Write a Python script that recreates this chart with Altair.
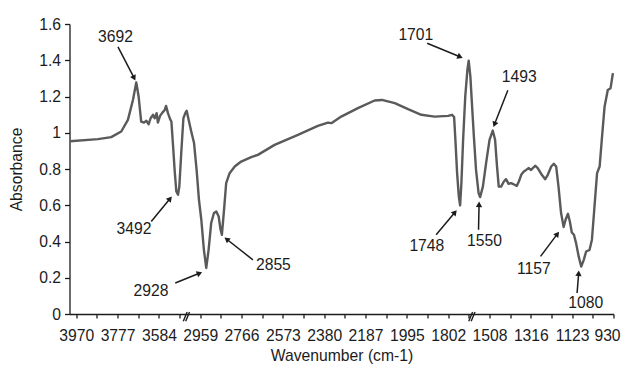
import json
import math
import altair as alt
import pandas as pd

# ---------------- data ----------------
tick_labels = ["3970", "3777", "3584", "2959", "2766", "2573", "2380",
               "2187", "1995", "1802", "1508", "1316", "1123", "930"]

wavenumber = [
    3999, 3869, 3807, 3760, 3729, 3705, 3690, 3679, 3667, 3654, 3643, 3632,
    3623, 3612, 3604, 3595, 3589, 3579, 3568, 3557, 3551, 3542, 3532, 3526,
    3518, 3511, 3503, 3495, 3489, 3480, 3470, 3461, 3455,
    3022, 3013, 3001, 2988, 2976, 2965, 2954, 2942, 2931, 2920, 2908, 2895,
    2884, 2873, 2864, 2858, 2848, 2838, 2822, 2798, 2768, 2721, 2690, 2612,
    2503, 2410, 2363, 2347, 2301, 2223, 2145, 2111, 2051, 1989, 1927, 1865,
    1802, 1784, 1774, 1768, 1760, 1752, 1746, 1740, 1732, 1722, 1712, 1706,
    1698, 1690,
    1581, 1571, 1559, 1552, 1539, 1524, 1508, 1493, 1482, 1473, 1465, 1454,
    1441, 1431, 1419, 1407, 1391, 1381, 1371, 1360, 1348, 1337, 1326, 1314,
    1295, 1283, 1264, 1248, 1236, 1220, 1208, 1197, 1186, 1174, 1162, 1153,
    1142, 1133, 1124, 1114, 1104, 1092, 1080, 1068, 1057, 1041, 1030, 1018,
    1006, 994, 984, 971, 956, 943, 937, 932,
]
absorbance = [
    0.953, 0.965, 0.976, 1.007, 1.071, 1.183, 1.277, 1.200, 1.062, 1.056, 1.066, 1.047,
    1.080, 1.099, 1.080, 1.108, 1.056, 1.093, 1.111, 1.126, 1.148, 1.108, 1.075, 1.062,
    0.924, 0.795, 0.676, 0.658, 0.703, 0.888, 1.080, 1.108, 1.121,
    1.120, 1.071, 1.007, 0.943, 0.795, 0.630, 0.520, 0.354, 0.254, 0.354, 0.502, 0.557,
    0.566, 0.538, 0.465, 0.437, 0.575, 0.722, 0.777, 0.814, 0.841, 0.866, 0.878, 0.933,
    0.988, 1.038, 1.056, 1.053, 1.089, 1.136, 1.178, 1.181, 1.163, 1.130, 1.099, 1.089,
    1.093, 1.099, 1.086, 0.961, 0.777, 0.648, 0.599, 0.722, 0.961, 1.200, 1.347, 1.398,
    1.310, 1.144,
    0.979, 0.795, 0.667, 0.645, 0.703, 0.832, 0.961, 1.012, 0.961, 0.814, 0.703, 0.703,
    0.731, 0.744, 0.718, 0.722, 0.713, 0.707, 0.731, 0.768, 0.786, 0.795, 0.805, 0.795,
    0.818, 0.805, 0.768, 0.744, 0.768, 0.814, 0.829, 0.814, 0.703, 0.557, 0.480, 0.520,
    0.553, 0.510, 0.450, 0.437, 0.391, 0.318, 0.262, 0.299, 0.345, 0.354, 0.410, 0.593,
    0.777, 0.814, 0.961, 1.144, 1.236, 1.246, 1.292, 1.329,
]

# peak annotations
ann_labels = ["3692", "3492", "2928", "2855", "1701", "1493", "1748", "1550", "1157", "1080"]

# ---------------- layout (axis positions, not data) ----------------
W, H = 544, 290
X_MIN, X_MAX = -0.164, 13.0
Y_MIN, Y_MAX = 0.0, 1.6
STEP = 192.9            # cm-1 per labelled category step
BREAKS = [2.665, 9.573]  # axis-break positions (in category steps)
FS = 15.7

# annotation text position and arrow start/end, in axis units (category step, absorbance)
ann_text_xy = [(0.948, 1.529), (1.396, 0.470), (1.807, 0.126), (4.770, 0.272), (8.217, 1.540),
               (10.721, 1.305), (8.483, 0.377), (9.879, 0.401), (11.072, 0.250), (12.330, 0.060)]
ann_arrow = [((1.009, 1.474), (1.420, 1.293)), ((1.814, 0.510), (2.298, 0.645)),
             ((2.395, 0.171), (3.024, 0.229)), ((4.274, 0.299), (3.604, 0.419)),
             ((8.491, 1.494), (9.330, 1.415)), ((10.443, 1.235), (10.104, 1.037)),
             ((8.708, 0.437), (9.192, 0.569)), ((9.734, 0.465), (9.748, 0.615)),
             ((11.234, 0.318), (11.669, 0.450)), ((12.119, 0.116), (12.160, 0.235))]

kx = W / (X_MAX - X_MIN)
ky = H / (Y_MAX - Y_MIN)


def wn_to_pos(w):
    if w >= 3300:
        return (3970 - w) / STEP
    if w >= 1650:
        return 3 + (2959 - w) / STEP
    return 10 + (1508 - w) / STEP


spec = pd.DataFrame({"wn": wavenumber, "absorbance": absorbance})
spec["pos"] = [wn_to_pos(w) for w in wavenumber]

ann_df = pd.DataFrame({
    "label": ann_labels,
    "pos": [p[0] for p in ann_text_xy],
    "absorbance": [p[1] for p in ann_text_xy],
})

HEAD_SIZE = 40
head_h = math.sqrt(3) / 2 * math.sqrt(HEAD_SIZE) / 2
rows, heads = [], []
for (x0, y0), (x1, y1) in ann_arrow:
    dx = (x1 - x0) * kx
    dy = -(y1 - y0) * ky
    L = math.hypot(dx, dy)
    ux, uy = dx / L, dy / L
    cx = x1 - ux * head_h / kx
    cy = y1 + uy * head_h / ky
    rows.append({"pos": x0, "absorbance": y0, "x1": cx, "y1": cy})
    heads.append({"pos": cx, "absorbance": cy, "ang": math.degrees(math.atan2(dx, -dy)) % 360})
arrow_df = pd.DataFrame(rows)
head_df = pd.DataFrame(heads)

# axis-break slashes (two short slanted strokes straddling the x axis)
sl = []
for b in BREAKS:
    for off in (-1.2, 1.2):
        sl.append({"pos": b + (off + 1.9) / kx, "absorbance": (-2.7 + 4.6) / ky,
                   "x1": b + (off - 1.9) / kx, "y1": (-2.7 - 4.6) / ky})
slash_df = pd.DataFrame(sl)

xs = alt.Scale(domain=[X_MIN, X_MAX], nice=False, zero=False)
ys = alt.Scale(domain=[Y_MIN, Y_MAX], nice=False, zero=False)

tick_vals = [i * 0.5 for i in range(27)]
label_expr = "datum.value % 1 === 0 ? " + json.dumps(tick_labels) + "[datum.value] : ''"

INK = "#1c1c1c"

x_axis = alt.Axis(
    values=tick_vals, labelExpr=label_expr, title="Wavenumber (cm-1)",
    tickSize=4, labelPadding=10, labelOverlap=False, labelFlush=False, labelBound=False,
    labelOffset={"condition": {"test": "datum.value === 13", "value": -6.5}, "value": 0},
    titleX=W / 2, titleY=41, titleBaseline="middle", titleAlign="center")
y_axis = alt.Axis(
    values=[0, 0.2, 0.4, 0.6, 0.8, 1, 1.2, 1.4, 1.6], format="~g", title="Absorbance",
    tickSize=5, labelPadding=4, titleAngle=270, titleX=-53.5, titleY=H / 2,
    titleBaseline="middle", titleAlign="center")

X = alt.X("pos:Q", scale=xs, axis=x_axis, title="Wavenumber (cm-1)")
Y = alt.Y("absorbance:Q", scale=ys, axis=y_axis, title="Absorbance")

line = alt.Chart(spec).mark_line(color="#5a5a5a", strokeWidth=2.4, strokeJoin="round").encode(
    x=X, y=Y, order="pos:Q",
)

texts = alt.Chart(ann_df).mark_text(fontSize=FS, font="Liberation Sans", color=INK,
                                    baseline="middle", align="center").encode(
    x=X, y=Y, text="label:N",
)

shafts = alt.Chart(arrow_df).mark_rule(color=INK, strokeWidth=1.5).encode(
    x=X, x2="x1:Q", y=Y, y2="y1:Q",
)

arrowheads = alt.Chart(head_df).mark_point(shape="triangle", filled=True, size=HEAD_SIZE,
                                           color=INK, opacity=1).encode(
    x=X, y=Y, angle=alt.Angle("ang:Q", scale=None),
)

slashes = alt.Chart(slash_df).mark_rule(color=INK, strokeWidth=1.4).encode(
    x=X, x2="x1:Q", y=Y, y2="y1:Q",
)

chart = alt.layer(line, shafts, arrowheads, texts, slashes).properties(
    width=W, height=H,
    autosize=alt.AutoSizeParams(type="none"),
    padding={"left": 61.5, "top": 16, "right": 7.5, "bottom": 51},
).configure_view(stroke=None).configure_axis(
    grid=False, labelFont="Liberation Sans", titleFont="Liberation Sans",
    labelFontSize=FS, titleFontSize=FS, labelColor=INK, titleColor=INK,
    titleFontWeight="normal", domainColor=INK, tickColor=INK,
    domainWidth=1.3, tickWidth=1.3,
)

chart.save("out.html", embed_options={"renderer": "svg", "actions": False})
